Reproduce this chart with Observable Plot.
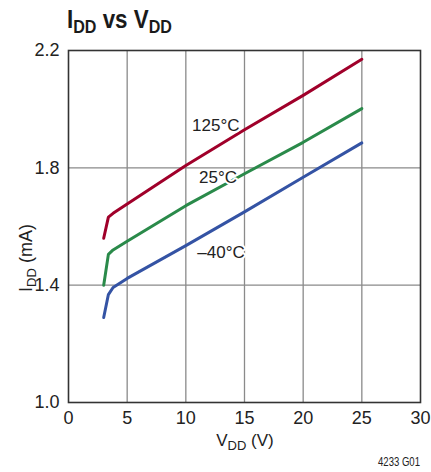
<!DOCTYPE html>
<html>
<head>
<meta charset="utf-8">
<script src="https://cdn.jsdelivr.net/npm/d3@7"></script>
<script src="https://cdn.jsdelivr.net/npm/@observablehq/plot@0.6"></script>
<style>
  body { margin: 0; background: white; }
  #title { position: relative; height: 40px; width: 431px; }
  #title span { position: absolute; left: 67px; top: 4px; font-family: "Liberation Sans", Arial, sans-serif; font-weight: bold; font-size: 26px; color: #1a1a1a; transform: scaleX(0.86); transform-origin: left top; white-space: nowrap; }
  #title sub { font-size: 0.72em; vertical-align: -0.28em; line-height: 0; }
</style>
</head>
<body>
<div id="title"><span>I<sub>DD</sub> vs V<sub>DD</sub></span></div>
<div id="chart"></div>
<script>
// Data
const voltage = [3.0, 3.4, 3.8, 5, 10, 15, 20, 25];
const i125 = [1.56, 1.632, 1.645, 1.677, 1.808, 1.930, 2.047, 2.170];
const i25  = [1.40, 1.505, 1.520, 1.550, 1.671, 1.780, 1.887, 2.002];
const im40 = [1.29, 1.368, 1.392, 1.423, 1.535, 1.650, 1.768, 1.885];
const seriesNames = ["125°C", "25°C", "–40°C"];
const seriesColors = ["#a0002a", "#2a8a4a", "#3453a4"];
const labelX = [12.55, 12.75, 13.0];
const labelY = [1.944, 1.767, 1.511];
const xTicks = [0, 5, 10, 15, 20, 25, 30];
const yTicks = [1.0, 1.4, 1.8, 2.2];
const xGrid = [5, 10, 15, 20, 25];
const yGrid = [1.4, 1.8];

const seriesValues = [i125, i25, im40];
const rows = [];
seriesNames.forEach((s, k) => voltage.forEach((v, j) => rows.push({series: s, v, i: seriesValues[k][j]})));
const labels = seriesNames.map((s, k) => ({series: s, x: labelX[k], y: labelY[k]}));

const font = '"Liberation Sans", Arial, sans-serif';

const chart = Plot.plot({
  width: 431,
  height: 432,
  marginTop: 10,
  marginBottom: 70,
  marginLeft: 68,
  marginRight: 11,
  style: {fontFamily: font, fontSize: "18px", color: "#222", background: "white", overflow: "visible"},
  x: {domain: [0, 30], label: null},
  y: {domain: [1.0, 2.2], label: null},
  color: {domain: seriesNames, range: seriesColors},
  marks: [
    Plot.ruleX(xGrid, {stroke: "#8a8a8a", strokeWidth: 1.3}),
    Plot.ruleY(yGrid, {stroke: "#8a8a8a", strokeWidth: 1.3}),
    Plot.line(rows, {x: "v", y: "i", z: "series", stroke: "series", strokeWidth: 3, strokeLinejoin: "round"}),
    Plot.text(labels, {x: "x", y: "y", text: "series", fill: "#222", stroke: "white", strokeWidth: 4, fontSize: 17}),
    Plot.frame({stroke: "#333", strokeWidth: 1.6}),
    Plot.axisX(xTicks, {tickSize: 0, tickPadding: 9, fontSize: 18}),
    Plot.axisY(yTicks, {tickSize: 0, tickPadding: 9, fontSize: 18, tickFormat: d3.format(".1f")})
  ]
});

document.getElementById("chart").appendChild(chart);

const svg = d3.select(chart);
const xl = svg.append("text")
  .attr("x", 245).attr("y", 406)
  .attr("text-anchor", "middle")
  .attr("font-family", font).attr("font-size", 17).attr("fill", "#222");
xl.append("tspan").text("V");
xl.append("tspan").attr("font-size", 13).attr("dy", 4).text("DD");
xl.append("tspan").attr("dy", -4).text(" (V)");

const yl = svg.append("text")
  .attr("transform", "translate(32,218) rotate(-90)")
  .attr("text-anchor", "middle")
  .attr("font-family", font).attr("font-size", 18).attr("fill", "#222");
yl.append("tspan").text("I");
yl.append("tspan").attr("font-size", 13).attr("dy", 4).text("DD");
yl.append("tspan").attr("dy", -4).text(" (mA)");

svg.append("text")
  .attr("x", 420).attr("y", 426)
  .attr("text-anchor", "end")
  .attr("font-family", font).attr("font-size", 12).attr("fill", "#222")
  .attr("textLength", 42).attr("lengthAdjust", "spacingAndGlyphs")
  .text("4233 G01");
</script>
</body>
</html>
